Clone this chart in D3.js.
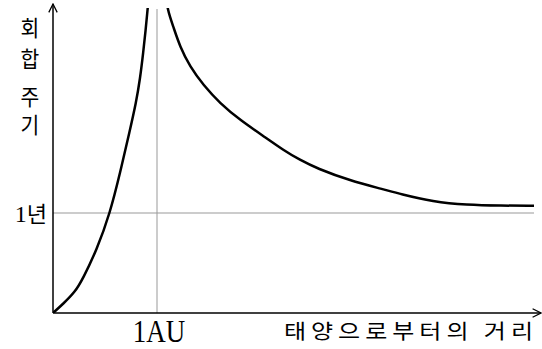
<!DOCTYPE html>
<html>
<head>
<meta charset="utf-8">
<script src="https://cdn.jsdelivr.net/npm/d3@7"></script>
<style>
  body { margin: 0; background: #fff; }
  svg { display: block; }
</style>
</head>
<body>
<svg id="chart"></svg>
<script>
// distance (AU) and synodic period (years)
const innerX = [0, 0.096, 0.212, 0.286, 0.420, 0.548, 0.644, 0.740, 0.798, 0.837, 0.868, 0.891, 0.907, 0.918];
const innerY = [0, 0.09, 0.21, 0.34, 0.63, 0.997, 1.397, 1.83, 2.10, 2.34, 2.61, 2.83, 3.01, 3.13];
const outerX = [1.085, 1.099, 1.157, 1.221, 1.317, 1.445, 1.606, 1.798, 2.055, 2.214, 2.375, 2.536, 2.856, 3.176, 3.337, 3.654, 3.978, 4.298, 4.625];
const outerY = [3.2, 3.037, 2.863, 2.663, 2.463, 2.28, 2.097, 1.93, 1.747, 1.63, 1.53, 1.447, 1.323, 1.237, 1.19, 1.113, 1.08, 1.073, 1.073];
const xTick = 1, xTickLabel = '1AU';
const yTick = 1, yTickLabel = '년';
const yTitle = ['회', '합', '주', '기'];
const xTitle = '태양으로부터의 거리';

const width = 542, height = 349;
const origin = {x: 53, y: 313};

const svg = d3.select('#chart').attr('width', width).attr('height', height);

const xscale = d3.scaleLinear().domain([0, 1]).range([origin.x, 157]);
const yscale = d3.scaleLinear().domain([0, 1]).range([origin.y, 213]);

svg.append('defs').append('clipPath').attr('id', 'plot')
    .append('rect').attr('x', origin.x).attr('y', 8)
    .attr('width', 534 - origin.x).attr('height', origin.y - 8);

svg.append('defs').append('marker')
    .attr('id', 'arrow').attr('viewBox', '0 0 10 10')
    .attr('refX', 9).attr('refY', 5)
    .attr('markerWidth', 7).attr('markerHeight', 7)
    .attr('orient', 'auto-start-reverse')
    .append('path').attr('d', 'M1,1 L9,5 L1,9')
    .attr('fill', 'none').attr('stroke', '#000').attr('stroke-width', 1.2);

// grid lines
svg.append('line')
    .attr('x1', xscale(xTick)).attr('x2', xscale(xTick))
    .attr('y1', 9).attr('y2', origin.y)
    .attr('stroke', '#999').attr('stroke-width', 1);
svg.append('line')
    .attr('x1', origin.x).attr('x2', 534)
    .attr('y1', yscale(yTick)).attr('y2', yscale(yTick))
    .attr('stroke', '#999').attr('stroke-width', 1);

// axes
svg.append('line')
    .attr('x1', origin.x).attr('x2', origin.x)
    .attr('y1', origin.y).attr('y2', 4)
    .attr('stroke', '#000').attr('stroke-width', 1.5)
    .attr('marker-end', 'url(#arrow)');
svg.append('line')
    .attr('x1', origin.x).attr('x2', 541)
    .attr('y1', origin.y).attr('y2', origin.y)
    .attr('stroke', '#000').attr('stroke-width', 1.5)
    .attr('marker-end', 'url(#arrow)');

// curves
const line = d3.line()
    .x(d => xscale(d[0]))
    .y(d => yscale(d[1]))
    .curve(d3.curveBasis);

const curves = svg.append('g').attr('clip-path', 'url(#plot)');
curves.append('path')
    .attr('d', line(innerX.map((x, i) => [x, innerY[i]])))
    .attr('fill', 'none').attr('stroke', '#000').attr('stroke-width', 2.5);
curves.append('path')
    .attr('d', line(outerX.map((x, i) => [x, outerY[i]])))
    .attr('fill', 'none').attr('stroke', '#000').attr('stroke-width', 2.5);

// labels
const ylab = svg.append('text')
    .attr('x', 47).attr('y', yscale(yTick) + 9)
    .attr('text-anchor', 'end')
    .style('font-size', '24px');
ylab.append('tspan').style('font-family', 'Liberation Serif').text('1');
ylab.append('tspan').style('font-family', 'Noto Sans CJK KR').style('font-size', '22px').text(yTickLabel);

svg.append('text')
    .attr('transform', `translate(${xscale(xTick) + 2},342) scale(1,1.2)`)
    .attr('text-anchor', 'middle')
    .style('font-family', 'Liberation Serif')
    .style('font-size', '27px')
    .text(xTickLabel);

svg.append('text')
    .attr('transform', 'translate(538,339) scale(1,0.85)')
    .attr('text-anchor', 'end')
    .style('font-family', 'Noto Sans CJK KR')
    .style('font-size', '24px')
    .style('letter-spacing', '5px')
    .text(xTitle);

const ty = [27.5, 58.5, 96, 124];
svg.selectAll('.ytitle')
    .data(yTitle)
    .join('text')
    .attr('class', 'ytitle')
    .attr('transform', (d, i) => `translate(30,${ty[i] + 8.5}) scale(0.85,0.9)`)
    .attr('text-anchor', 'middle')
    .style('font-family', 'Noto Sans CJK KR')
    .style('font-size', '24px')
    .text(d => d);
</script>
</body>
</html>
